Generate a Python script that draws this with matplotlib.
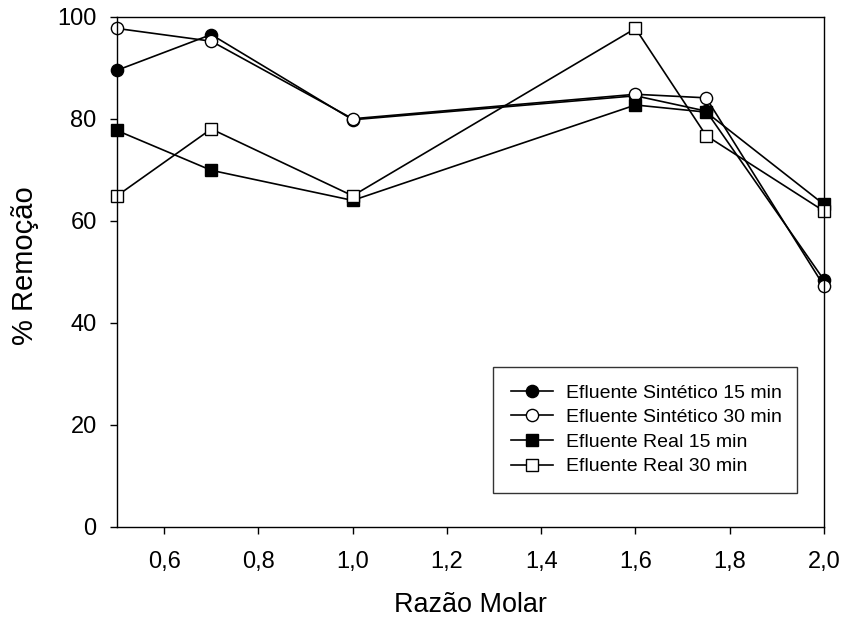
import matplotlib
matplotlib.use("Agg")
import matplotlib.pyplot as plt
from matplotlib.ticker import FuncFormatter

plt.rcParams['font.family'] = ['Liberation Sans', 'DejaVu Sans']

razao = [0.5, 0.7, 1.0, 1.6, 1.75, 2.0]
sint_15 = [89.5, 96.5, 79.8, 84.5, 81.5, 48.4]
sint_30 = [97.7, 95.2, 80.0, 84.8, 84.1, 47.2]
real_15 = [77.7, 69.9, 64.0, 82.7, 81.3, 63.2]
real_30 = [64.9, 78.0, 64.9, 97.7, 76.7, 61.9]

labels = ["Efluente Sintético 15 min", "Efluente Sintético 30 min",
          "Efluente Real 15 min", "Efluente Real 30 min"]
x_ticks = [0.6, 0.8, 1.0, 1.2, 1.4, 1.6, 1.8, 2.0]
y_ticks = [0, 20, 40, 60, 80, 100]

fig = plt.figure(figsize=(8.41, 6.21), dpi=100)
ax = fig.add_axes([0.1391, 0.1514, 0.8407, 0.8217])

styles = [
    dict(marker='o', mfc='black', ms=8.8),
    dict(marker='o', mfc='white', ms=8.8),
    dict(marker='s', mfc='black', ms=8.4),
    dict(marker='s', mfc='white', ms=8.4),
]
for ys, lab, st in zip([sint_15, sint_30, real_15, real_30], labels, styles):
    ax.plot(razao, ys, color='black', lw=1.2, mec='black', mew=1.0,
            label=lab, clip_on=False, **st)

ax.set_xlim(0.5, 2.0)
ax.set_ylim(0, 100)
ax.set_xticks(x_ticks)
ax.set_yticks(y_ticks)
ax.xaxis.set_major_formatter(FuncFormatter(lambda v, p: f"{v:.1f}".replace('.', ',')))
ax.tick_params(direction='out', length=4.8, width=1.0, labelsize=17)
ax.tick_params(axis='x', pad=12.5)
ax.tick_params(axis='y', pad=9.8)
for s in ax.spines.values():
    s.set_linewidth(1.0)

ax.set_xlabel("Razão Molar", fontsize=19.4)
ax.set_ylabel("% Remoção", fontsize=21)
ax.xaxis.set_label_coords(0.5, -0.127)
ax.yaxis.set_label_coords(-0.1096, 0.5115)

leg = ax.legend(loc='lower left', bbox_to_anchor=(0.532, 0.0666, 0.43, 0.247),
                mode='expand', fontsize=14, frameon=True, fancybox=False,
                edgecolor='black', handlelength=2.2, handletextpad=0.67,
                labelspacing=0.36, borderpad=0.9, borderaxespad=0.0)
leg.get_frame().set_linewidth(1.0)

fig.savefig("out.png", dpi=100)
